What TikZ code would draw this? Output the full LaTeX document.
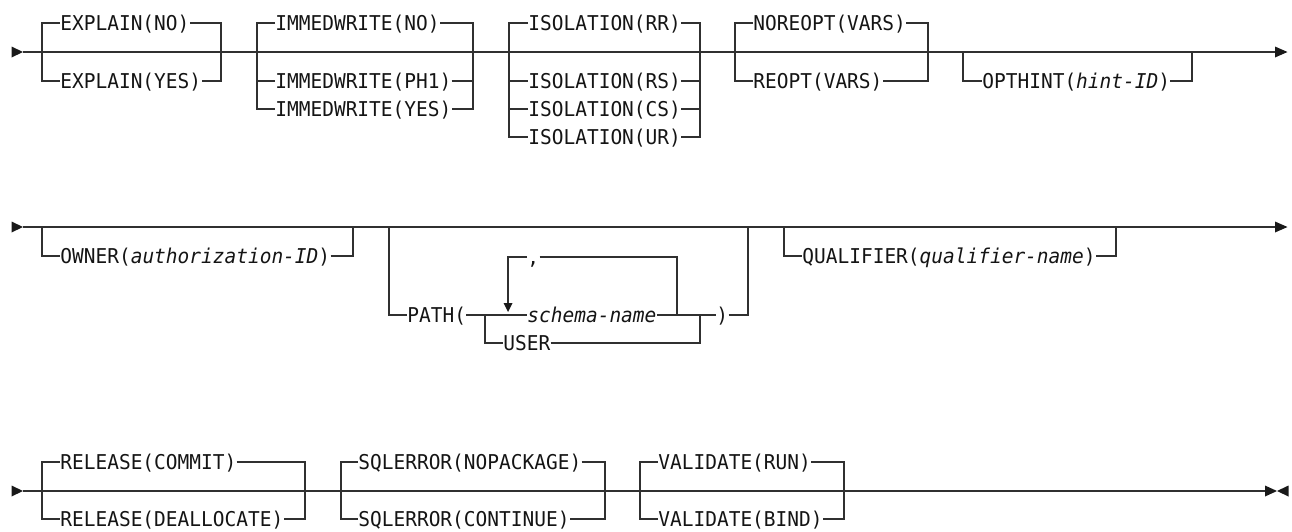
\documentclass[tikz,border=0pt]{standalone}
\usepackage{fontspec}
\newfontfamily\synfont[FakeStretch=0.955]{DejaVu Sans Mono}
\newcommand\vname[1]{{\itshape #1}}
\definecolor{linec}{HTML}{303030}
\definecolor{txtc}{HTML}{141414}
\tikzset{
  rail/.style={draw=linec, line width=0.6pt},
  lbl/.style={font=\synfont\fontsize{10.2pt}{12pt}\selectfont, inner sep=0pt,
    anchor=west, text height=7.44pt, text depth=0pt, text=txtc},
  tip/.style={fill=black!90, draw=none}
}
\begin{document}
\begin{tikzpicture}[x=0.5pt,y=-0.5pt]
\useasboundingbox (0,0) rectangle (1292,531);

% ---------------- Row 1 ----------------
\coordinate (s1) at (23,52);
\coordinate (e1) at (1275,52);
\fill[tip] (11.5,46.5) -- (s1) -- (11.5,57.5) -- cycle;
\fill[tip] (1275,46.5) -- (1287.5,52) -- (1275,57.5) -- cycle;
\draw[rail] (s1) -- (e1);

% EXPLAIN
\node[lbl] (exno)  at (60,23) {EXPLAIN(NO)};
\node[lbl] (exyes) at (60,81) {EXPLAIN(YES)};
\draw[rail] (exno.west) -| (42,81) -- (exyes.west);
\draw[rail] (exno.east) -| (221,81) -- (exyes.east);

% IMMEDWRITE
\node[lbl] (imno)  at (275,23)  {IMMEDWRITE(NO)};
\node[lbl] (imph)  at (275,81)  {IMMEDWRITE(PH1)};
\node[lbl] (imyes) at (275,109) {IMMEDWRITE(YES)};
\draw[rail] (imno.west) -| (257,109) -- (imyes.west);
\draw[rail] (257,81) -- (imph.west);
\draw[rail] (imno.east) -| (473,109) -- (imyes.east);
\draw[rail] (imph.east) -- (473,81);

% ISOLATION
\node[lbl] (isrr) at (528,23)  {ISOLATION(RR)};
\node[lbl] (isrs) at (528,81)  {ISOLATION(RS)};
\node[lbl] (iscs) at (528,109) {ISOLATION(CS)};
\node[lbl] (isur) at (528,137) {ISOLATION(UR)};
\draw[rail] (isrr.west) -| (509,137) -- (isur.west);
\draw[rail] (509,81) -- (isrs.west);
\draw[rail] (509,109) -- (iscs.west);
\draw[rail] (isrr.east) -| (700,137) -- (isur.east);
\draw[rail] (isrs.east) -- (700,81);
\draw[rail] (iscs.east) -- (700,109);

% NOREOPT / REOPT
\node[lbl] (noreopt) at (753,23) {NOREOPT(VARS)};
\node[lbl] (reopt)   at (753,81) {REOPT(VARS)};
\draw[rail] (noreopt.west) -| (735,81) -- (reopt.west);
\draw[rail] (noreopt.east) -| (928,81) -- (reopt.east);

% OPTHINT
\node[lbl] (opthint) at (982,81) {OPTHINT(\vname{hint-ID})};
\draw[rail] (963,52) |- (opthint.west);
\draw[rail] (opthint.east) -| (1192,52);

% ---------------- Row 2 ----------------
\coordinate (s2) at (23,227);
\coordinate (e2) at (1275,227);
\fill[tip] (11.5,221.5) -- (s2) -- (11.5,232.5) -- cycle;
\fill[tip] (1275,221.5) -- (1287.5,227) -- (1275,232.5) -- cycle;
\draw[rail] (s2) -- (e2);

% OWNER
\node[lbl] (owner) at (60,256) {OWNER(\vname{authorization-ID})};
\draw[rail] (42,227) |- (owner.west);
\draw[rail] (owner.east) -| (353,227);

% PATH
\node[lbl] (path)   at (407,315) {PATH(};
\node[lbl] (schema) at (527,315) {\vname{schema-name}};
\node[lbl] (user)   at (503,343) {USER};
\node[lbl] (rparen) at (716,315) {)};
\node[lbl] (comma)  at (527,257) {,};
\draw[rail] (389,227) |- (path.west);
\draw[rail] (path.east) -- (schema.west);
\draw[rail] (schema.east) -- (rparen.west);
\draw[rail] (485,315) |- (user.west);
\draw[rail] (user.east) -| (700,315);
\draw[rail] (rparen.east) -| (748,227);
% repeat loop
\draw[rail] (comma.west) -| (508,304);
\fill[tip] (503.5,303) -- (512.5,303) -- (508,312) -- cycle;
\draw[rail] (comma.east) -| (677,315);

% QUALIFIER
\node[lbl] (qual) at (802,256) {QUALIFIER(\vname{qualifier-name})};
\draw[rail] (784,227) |- (qual.west);
\draw[rail] (qual.east) -| (1116,227);

% ---------------- Row 3 ----------------
\coordinate (s3) at (23,491);
\coordinate (e3) at (1265,491);
\fill[tip] (11.5,485.5) -- (s3) -- (11.5,496.5) -- cycle;
\fill[tip] (1265,485.5) -- (1277,491) -- (1265,496.5) -- cycle;
\fill[tip] (1288.5,485.5) -- (1277,491) -- (1288.5,496.5) -- cycle;
\draw[rail] (s3) -- (e3);
\draw[linec, line width=1.1pt] (844,491) -- (873,491);

% RELEASE
\node[lbl] (relc) at (60,462) {RELEASE(COMMIT)};
\node[lbl] (reld) at (60,519) {RELEASE(DEALLOCATE)};
\draw[rail] (relc.west) -| (42,519) -- (reld.west);
\draw[rail] (relc.east) -| (305,519) -- (reld.east);

% SQLERROR
\node[lbl] (sqln) at (358,462) {SQLERROR(NOPACKAGE)};
\node[lbl] (sqlc) at (358,519) {SQLERROR(CONTINUE)};
\draw[rail] (sqln.west) -| (341,519) -- (sqlc.west);
\draw[rail] (sqln.east) -| (605,519) -- (sqlc.east);

% VALIDATE
\node[lbl] (valr) at (658,462) {VALIDATE(RUN)};
\node[lbl] (valb) at (658,519) {VALIDATE(BIND)};
\draw[rail] (valr.west) -| (640,519) -- (valb.west);
\draw[rail] (valr.east) -| (844,519) -- (valb.east);
\end{tikzpicture}
\end{document}
